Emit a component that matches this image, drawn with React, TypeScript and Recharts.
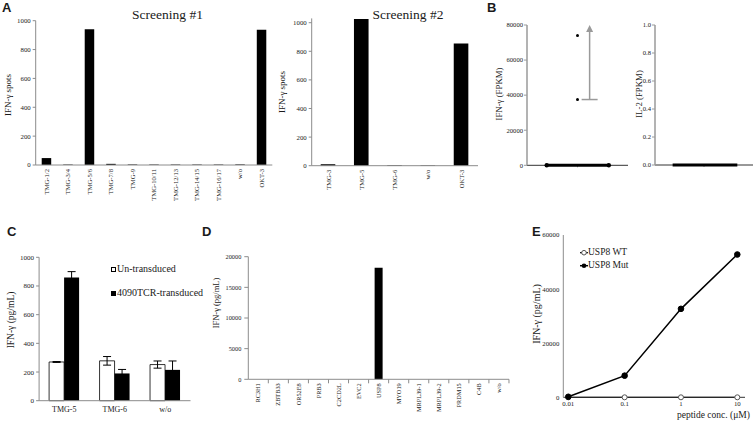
import React from "react";
import {
  BarChart, Bar, XAxis, YAxis, ErrorBar, ScatterChart, Scatter, LineChart, Line, ReferenceLine,
} from "recharts";

const SERIF = "'Liberation Serif', 'Times New Roman', serif";
const SANS = "'Liberation Sans', Arial, sans-serif";
const INK = "#1a1a1a";
const AXIS = "#8c8c8c";

/* ---- A: Screening #1 / #2 (IFN-γ spots) ---- */
const screen1Labels = ["TMG-1/2", "TMG-3/4", "TMG-5/6", "TMG-7/8", "TMG-9", "TMG-10/11", "TMG-12/13", "TMG-14/15", "TMG-16/17", "w/o", "OKT-3"];
const screen1Spots = [48, 3, 940, 8, 3, 3, 3, 3, 3, 4, 938];
const screen2Labels = ["TMG-3", "TMG-5", "TMG-6", "w/o", "OKT-3"];
const screen2Spots = [11, 1025, 4, 3, 855];
const spotTicks = [0, 200, 400, 600, 800, 1000];

/* ---- B: FPKM ---- */
const ifngDots = [74000, 37500];
const ifngArrow = { from: 37500, to: 80000 };
const ifngTicks = [0, 20000, 40000, 60000, 80000];
const il2Ticks = [0, 0.2, 0.4, 0.6, 0.8, 1.0];
const zeroSpanB1 = [0.195, 0.81];
const zeroSpanB2 = [0.18, 0.84];

/* ---- C: TCR transduction ---- */
const cGroups = ["TMG-5", "TMG-6", "w/o"];
const cUn = [270, 278, 252];
const cUnErr = [3, 30, 25];
const cTcr = [860, 190, 215];
const cTcrErr = [40, 28, 62];
const cTicks = [0, 200, 400, 600, 800, 1000];

/* ---- D: candidate genes ---- */
const dGenes = ["RC3H1", "ZBTB33", "OR52E8", "PRB3", "C2CD2L", "EVC2", "USP8", "MYO19", "MRPL39-1", "MRPL39-2", "PRDM15", "C4B", "w/o"];
const dIfng = [0, 0, 0, 0, 0, 0, 18200, 0, 0, 0, 0, 0, 0];
const dTicks = [0, 5000, 10000, 15000, 20000];

/* ---- E: peptide titration ---- */
const eConc = ["0.01", "0.1", "1", "10"];
const eWt = [0, 0, 0, 0];
const eMut = [200, 8000, 32700, 52800];
const eTicks = [0, 20000, 40000, 60000];

const dataA1 = screen1Labels.map((name, i) => ({ name, v: screen1Spots[i] }));
const dataA2 = screen2Labels.map((name, i) => ({ name, v: screen2Spots[i] }));
const dataB1Dots = ifngDots.map((y) => ({ x: 0.5, y }));
const dataB1Zero = zeroSpanB1.map((x) => ({ x, y: 0 }));
const dataB2Zero = zeroSpanB2.map((x) => ({ x, y: 0 }));
const dataC = cGroups.map((g, i) => ({ g, un: cUn[i], unErr: cUnErr[i], tcr: cTcr[i], tcrErr: cTcrErr[i] }));
const dataD = dGenes.map((g, i) => ({ g, v: dIfng[i] }));
const dataE = eConc.map((c, i) => ({ c, wt: eWt[i], mut: eMut[i] }));

const tickFont = (size: number) => ({ fontSize: size, fill: INK, fontFamily: SERIF });

function VTick({ x, y, payload, size }: any) {
  return (
    <text x={x} y={y} transform={`rotate(-90 ${x} ${y})`} textAnchor="end" dy="0.33em"
      fontSize={size} fontFamily={SERIF} fill={INK}>
      {payload.value}
    </text>
  );
}

// D axis: Excel-style tick marks between categories
function DTick({ x, y, payload }: any) {
  return (
    <g>
      <line x1={x + 10} x2={x + 10} y1={y} y2={y + 4} stroke={AXIS} />
      <text x={x} y={y + 4} transform={`rotate(-90 ${x} ${y + 4})`} textAnchor="end" dy="0.33em"
        fontSize={6.3} fontFamily={SERIF} fill={INK}>
        {payload.value}
      </text>
    </g>
  );
}

function ArrowShape({ x1, y1, x2, y2 }: any) {
  const c = "#9a9a9a";
  return (
    <g>
      <line x1={x1} y1={y1} x2={x2} y2={y2 + 6} stroke={c} strokeWidth={1.5} />
      <line x1={x1 - 8} y1={y1} x2={x1 + 8} y2={y1} stroke={c} strokeWidth={1.5} />
      <polygon points={`${x2 - 3.5},${y2 + 7} ${x2 + 3.5},${y2 + 7} ${x2},${y2}`} fill={c} />
    </g>
  );
}

const abs = (left: number, top: number): React.CSSProperties => ({ position: "absolute", left, top });

function VLabel({ cx, cy, size, children }: any) {
  return (
    <div style={{
      position: "absolute", left: cx, top: cy, transform: "translate(-50%,-50%) rotate(-90deg)",
      whiteSpace: "nowrap", fontSize: size, fontFamily: SERIF, color: INK, lineHeight: 1,
    }}>{children}</div>
  );
}

function Txt({ left, top, size, children, bold, sans, center }: any) {
  return (
    <div style={{
      position: "absolute", left, top, whiteSpace: "nowrap", fontSize: size, lineHeight: 1,
      fontFamily: sans ? SANS : SERIF, fontWeight: bold ? 700 : 400, color: INK,
      transform: center ? "translateX(-50%)" : undefined,
    }}>{children}</div>
  );
}

export default function App() {
  return (
    <div style={{ position: "absolute", left: 0, top: 0, width: 756, height: 421, background: "#fff", overflow: "hidden" }}>
      {/* A1 */}
      <div style={abs(0, 0)}>
        <BarChart width={280} height={210} data={dataA1} margin={{ top: 20.7, right: 7.7, bottom: 0, left: 5.7 }}>
          <XAxis dataKey="name" interval={0} height={45} tickLine={false} tickSize={0} tickMargin={4}
            axisLine={{ stroke: AXIS }} tick={(p: any) => <VTick {...p} size={6.6} />} />
          <YAxis width={30} domain={[0, 1000]} ticks={spotTicks} tickSize={3} tickMargin={2}
            axisLine={{ stroke: AXIS }} tickLine={{ stroke: AXIS }} tick={tickFont(6.8)} />
          <Bar dataKey="v" fill="#000" barSize={9.5} isAnimationActive={false} />
        </BarChart>
      </div>

      {/* A2 */}
      <div style={abs(280, 0)}>
        <BarChart width={200} height={210} data={dataA2} margin={{ top: 18.4, right: 2, bottom: 0, left: 1.7 }}>
          <XAxis dataKey="name" interval={0} height={44.3} tickLine={false} tickSize={0} tickMargin={4}
            axisLine={{ stroke: AXIS }} tick={(p: any) => <VTick {...p} size={6.6} />} />
          <YAxis width={30} domain={[0, 1030]} ticks={spotTicks} tickSize={3} tickMargin={2}
            axisLine={{ stroke: AXIS }} tickLine={{ stroke: AXIS }} tick={tickFont(6.8)} />
          <Bar dataKey="v" fill="#000" barSize={14.6} isAnimationActive={false} />
        </BarChart>
      </div>

      {/* B1 */}
      <div style={abs(480, 0)}>
        <ScatterChart width={150} height={210} margin={{ top: 25, right: 2, bottom: 0, left: 7 }}>
          <XAxis type="number" dataKey="x" domain={[0, 1]} ticks={[0.5]} height={44.7} tickSize={2}
            axisLine={{ stroke: "#333" }} tickLine={{ stroke: "#999" }} tick={() => <g />} />
          <YAxis type="number" dataKey="y" width={40} domain={[0, 80000]} ticks={ifngTicks} tickSize={3} tickMargin={1}
            axisLine={{ stroke: "#9a9a9a", strokeWidth: 1.5 }} tickLine={{ stroke: "#9a9a9a" }} tick={tickFont(6.6)} />
          <ReferenceLine segment={[{ x: 0.62, y: ifngArrow.from }, { x: 0.62, y: ifngArrow.to }]} shape={ArrowShape} />
          <Scatter data={dataB1Zero} line={{ stroke: "#000", strokeWidth: 3 }} fill="#000"
            shape={(p: any) => <circle cx={p.cx} cy={p.cy} r={2.2} fill="#000" />} isAnimationActive={false} />
          <Scatter data={dataB1Dots} fill="#000"
            shape={(p: any) => <circle cx={p.cx} cy={p.cy} r={1.5} fill="#000" />} isAnimationActive={false} />
        </ScatterChart>
      </div>

      {/* B2 */}
      <div style={abs(630, 0)}>
        <ScatterChart width={126} height={210} margin={{ top: 25, right: 3, bottom: 0, left: 3 }}>
          <XAxis type="number" dataKey="x" domain={[0, 1]} ticks={[0.5]} height={45} tickSize={2}
            axisLine={{ stroke: "#333" }} tickLine={{ stroke: "#999" }} tick={() => <g />} />
          <YAxis type="number" dataKey="y" width={22} domain={[0, 1]} ticks={il2Ticks} tickSize={3} tickMargin={1}
            tickFormatter={(v: number) => v.toFixed(1)}
            axisLine={{ stroke: "#9a9a9a", strokeWidth: 1.5 }} tickLine={{ stroke: "#9a9a9a" }} tick={tickFont(6.6)} />
          <Scatter data={dataB2Zero} line={{ stroke: "#000", strokeWidth: 3 }} shape={() => <g />} isAnimationActive={false} />
        </ScatterChart>
      </div>

      {/* C */}
      <div style={abs(0, 240)}>
        <BarChart width={200} height={181} data={dataC} barGap={0} barSize={15}
          margin={{ top: 17.3, right: 9.5, bottom: 0, left: 9.1 }}>
          <XAxis dataKey="g" height={20.3} tickLine={false} tickSize={0} tickMargin={6}
            axisLine={{ stroke: AXIS }} tick={tickFont(8)} />
          <YAxis width={30} domain={[0, 1000]} ticks={cTicks} tickSize={3} tickMargin={2}
            axisLine={{ stroke: AXIS }} tickLine={{ stroke: AXIS }} tick={tickFont(7)} />
          <Bar dataKey="un" fill="#fff" stroke="#000" strokeWidth={0.8} isAnimationActive={false}>
            <ErrorBar dataKey="unErr" width={4} stroke="#000" strokeWidth={1} />
          </Bar>
          <Bar dataKey="tcr" fill="#000" isAnimationActive={false}>
            <ErrorBar dataKey="tcrErr" width={4} stroke="#000" strokeWidth={1} />
          </Bar>
        </BarChart>
      </div>

      {/* D */}
      <div style={abs(200, 240)}>
        <BarChart width={310} height={181} data={dataD} margin={{ top: 16.7, right: 1, bottom: 0, left: 8.3 }}>
          <XAxis dataKey="g" interval={0} height={41.7} tickLine={false} tickSize={0} tickMargin={0}
            axisLine={{ stroke: AXIS }} tick={(p: any) => <DTick {...p} />} />
          <YAxis width={40} domain={[0, 20000]} ticks={dTicks} tickSize={4} tickMargin={3}
            axisLine={{ stroke: AXIS }} tickLine={{ stroke: AXIS }} tick={tickFont(6.3)} />
          <Bar dataKey="v" fill="#000" barSize={8} isAnimationActive={false} />
        </BarChart>
      </div>

      {/* E */}
      <div style={abs(510, 220)}>
        <LineChart width={246} height={201} data={dataE} margin={{ top: 15, right: 11, bottom: 0, left: 8.3 }}>
          <XAxis dataKey="c" height={23.7} padding={{ left: 5, right: 7.7 }} tickLine={false} tickSize={0} tickMargin={4}
            axisLine={{ stroke: "#333" }} tick={tickFont(6.8)} />
          <YAxis width={45} domain={[0, 60000]} ticks={eTicks} tickLine={false} tickSize={0} tickMargin={4}
            axisLine={{ stroke: AXIS }} tick={tickFont(6.8)} />
          <Line dataKey="wt" stroke="#000" strokeWidth={1.2}
            dot={{ r: 2.5, fill: "#fff", stroke: "#555", strokeWidth: 1 }} isAnimationActive={false} />
          <Line dataKey="mut" stroke="#000" strokeWidth={1.5}
            dot={{ r: 2.8, fill: "#000", stroke: "#000", strokeWidth: 1 }} isAnimationActive={false} />
        </LineChart>
      </div>

      {/* titles & axis labels */}
      <Txt left={167.5} top={8} size={13.5} center>Screening #1</Txt>
      <Txt left={408} top={8} size={13.5} center>Screening #2</Txt>
      <VLabel cx={8} cy={95} size={9}>IFN-γ spots</VLabel>
      <VLabel cx={282} cy={92} size={9}>IFN-γ spots</VLabel>
      <VLabel cx={499} cy={94} size={8.8}>IFN-γ (FPKM)</VLabel>
      <VLabel cx={639} cy={94} size={8.8}>IL-2 (FPKM)</VLabel>
      <VLabel cx={11.5} cy={320} size={9.5}>IFN-γ (pg/mL)</VLabel>
      <VLabel cx={215.5} cy={303} size={8.5}>IFN-γ (pg/mL)</VLabel>
      <VLabel cx={537} cy={314} size={10}>IFN-γ (pg/mL)</VLabel>
      <Txt left={677} top={410.5} size={9.5}>peptide conc. (μM)</Txt>

      {/* C legend */}
      <div style={{ position: "absolute", left: 111, top: 266.8, width: 5, height: 5, border: "0.8px solid #000", boxSizing: "border-box", background: "#fff" }} />
      <Txt left={117} top={264.3} size={10}>Un-transduced</Txt>
      <div style={{ position: "absolute", left: 111, top: 290.8, width: 5, height: 5, background: "#000" }} />
      <Txt left={117} top={288.3} size={10}>4090TCR-transduced</Txt>

      {/* E legend */}
      <svg style={{ position: "absolute", left: 579, top: 248 }} width={10} height={22}>
        <line x1={1} x2={9} y1={4.7} y2={4.7} stroke="#000" strokeWidth={1.2} />
        <circle cx={5} cy={4.7} r={2.3} fill="#fff" stroke="#555" />
        <line x1={1} x2={9} y1={17.7} y2={17.7} stroke="#000" strokeWidth={1.5} />
        <circle cx={5} cy={17.7} r={2.3} fill="#000" />
      </svg>
      <Txt left={588} top={248} size={9.5}>USP8 WT</Txt>
      <Txt left={588} top={261} size={9.5}>USP8 Mut</Txt>

      {/* panel letters */}
      <Txt left={2} top={1} size={13} bold sans>A</Txt>
      <Txt left={487} top={1} size={13} bold sans>B</Txt>
      <Txt left={7} top={225} size={13} bold sans>C</Txt>
      <Txt left={202} top={225} size={13} bold sans>D</Txt>
      <Txt left={532} top={225} size={13} bold sans>E</Txt>
    </div>
  );
}
